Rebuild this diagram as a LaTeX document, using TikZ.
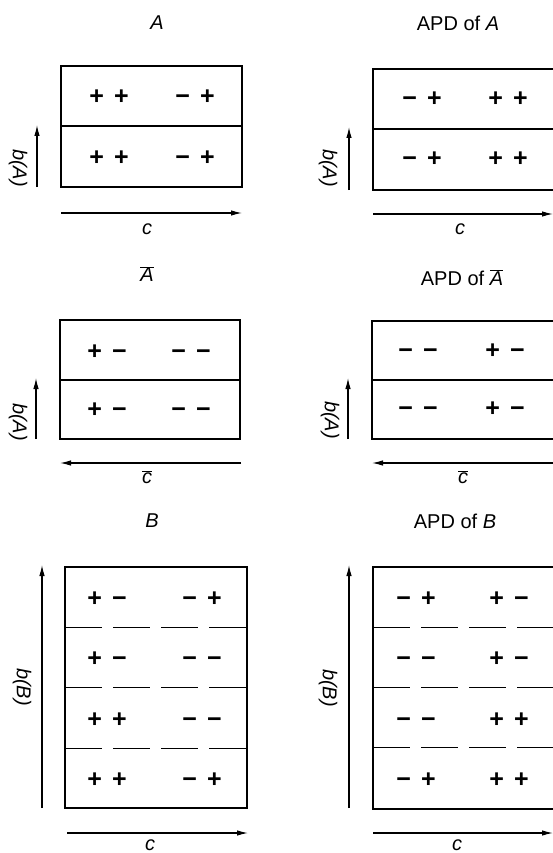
\documentclass[tikz,border=0pt]{standalone}
\usepackage{fontspec}
\setmainfont{Liberation Sans}
\usetikzlibrary{arrows.meta}
\newcommand\sgap{\hspace{10pt}}
\newcommand\ovA{$\overline{\mbox{\itshape A}}$}
\newcommand\ovc{$\overline{\mbox{\itshape c}}$}
\begin{document}
\begin{tikzpicture}[x=1pt,y=-1pt,
  box/.style={line width=1.8pt},
  divline/.style={line width=1.3pt},
  dashdiv/.style={line width=1.0pt, dash pattern=on 36.5pt off 11.5pt},
  axis/.style={line width=1.2pt, -{Latex[length=11pt,width=5.5pt]}},
  sg/.style={font=\fontsize{25}{28}\selectfont\bfseries, inner sep=0pt, text height=17.5pt, text depth=0pt},
  lab/.style={font=\fontsize{20}{24}\selectfont, inner sep=0pt}]
\clip (0,0) rectangle (553,853);

% ================= Panel A (left) =================
\node[lab] (tA) at (157,23) {\itshape A};
\draw[box] (61,66) rectangle (242,187);
\draw[divline] (61,126) -- (242,126);
\node[sg] (a11) at (109,96) {+\sgap+};
\node[sg] (a12) at (195,96) {−\sgap+};
\node[sg] (a21) at (109,157) {+\sgap+};
\node[sg] (a22) at (195,157) {−\sgap+};
\coordinate (aLb0) at (37,187); \coordinate (aLb1) at (37,125);
\draw[axis] (aLb0) -- (aLb1);
\node[lab, rotate=-90] (aLbl) at (18,168) {\itshape b(A)};
\coordinate (aLc0) at (61,213); \coordinate (aLc1) at (242,213);
\draw[axis] (aLc0) -- (aLc1);
\node[lab] (aLc) at (147,229) {\itshape c};

% ================= Panel A (right) =================
\node[lab] (tAr) at (458,23) {APD of \itshape A};
\draw[box] (373,69) rectangle (556,190);
\draw[divline] (373,129) -- (556,129);
\node[sg] (b11) at (422,98) {−\sgap+};
\node[sg] (b12) at (508,98) {+\sgap+};
\node[sg] (b21) at (422,158) {−\sgap+};
\node[sg] (b22) at (508,158) {+\sgap+};
\coordinate (aRb0) at (349,190); \coordinate (aRb1) at (349,127);
\draw[axis] (aRb0) -- (aRb1);
\node[lab, rotate=-90] (aRbl) at (328,168) {\itshape b(A)};
\coordinate (aRc0) at (373,214); \coordinate (aRc1) at (553,214);
\draw[axis] (aRc0) -- (aRc1);
\node[lab] (aRc) at (460,229) {\itshape c};

% ================= Panel A-bar (left) =================
\node[lab] (tAb) at (147,274) {\ovA};
\draw[box] (60,320) rectangle (240,439);
\draw[divline] (60,380) -- (240,380);
\node[sg] (c11) at (107,351) {+\sgap−};
\node[sg] (c12) at (191,351) {−\sgap−};
\node[sg] (c21) at (107,409) {+\sgap−};
\node[sg] (c22) at (191,409) {−\sgap−};
\coordinate (bLb0) at (36,439); \coordinate (bLb1) at (36,378);
\draw[axis] (bLb0) -- (bLb1);
\node[lab, rotate=-90] (bLbl) at (18,422) {\itshape b(A)};
\coordinate (bLc0) at (241,463); \coordinate (bLc1) at (60,463);
\draw[axis] (bLc0) -- (bLc1);
\node[lab] (bLc) at (147,477) {\ovc};

% ================= Panel A-bar (right) =================
\node[lab] (tAbr) at (462,278) {APD of \ovA};
\draw[box] (372,321) rectangle (556,439);
\draw[divline] (372,380) -- (556,380);
\node[sg] (d11) at (418,350) {−\sgap−};
\node[sg] (d12) at (505,350) {+\sgap−};
\node[sg] (d21) at (418,408) {−\sgap−};
\node[sg] (d22) at (505,408) {+\sgap−};
\coordinate (bRb0) at (348,439); \coordinate (bRb1) at (348,378);
\draw[axis] (bRb0) -- (bRb1);
\node[lab, rotate=-90] (bRbl) at (330,420) {\itshape b(A)};
\coordinate (bRc0) at (556,463); \coordinate (bRc1) at (372,463);
\draw[axis] (bRc0) -- (bRc1);
\node[lab] (bRc) at (463,477) {\ovc};

% ================= Panel B (left) =================
\node[lab] (tB) at (152,521) {\itshape B};
\draw[box] (65,567) rectangle (247,808);
\draw[dashdiv] (65,627) -- (247,627);
\draw[dashdiv] (65,687) -- (247,687);
\draw[dashdiv] (65,748) -- (247,748);
\node[sg] (e11) at (107,598) {+\sgap−};
\node[sg] (e12) at (202,598) {−\sgap+};
\node[sg] (e21) at (107,658) {+\sgap−};
\node[sg] (e22) at (202,658) {−\sgap−};
\node[sg] (e31) at (107,719) {+\sgap+};
\node[sg] (e32) at (202,719) {−\sgap−};
\node[sg] (e41) at (107,779) {+\sgap+};
\node[sg] (e42) at (202,779) {−\sgap+};
\coordinate (cLb0) at (42,808); \coordinate (cLb1) at (42,565);
\draw[axis] (cLb0) -- (cLb1);
\node[lab, rotate=-90] (cLbl) at (22,687) {\itshape b(B)};
\coordinate (cLc0) at (67,833); \coordinate (cLc1) at (248,833);
\draw[axis] (cLc0) -- (cLc1);
\node[lab] (cLc) at (150,845) {\itshape c};

% ================= Panel B (right) =================
\node[lab] (tBr) at (455,521) {APD of \itshape B};
\draw[box] (373,567) rectangle (556,809);
\draw[dashdiv] (373,627) -- (556,627);
\draw[dashdiv] (373,687) -- (556,687);
\draw[dashdiv] (373,747) -- (556,747);
\node[sg] (f11) at (416,598) {−\sgap+};
\node[sg] (f12) at (509,598) {+\sgap−};
\node[sg] (f21) at (416,658) {−\sgap−};
\node[sg] (f22) at (509,658) {+\sgap−};
\node[sg] (f31) at (416,719) {−\sgap−};
\node[sg] (f32) at (509,719) {+\sgap+};
\node[sg] (f41) at (416,779) {−\sgap+};
\node[sg] (f42) at (509,779) {+\sgap+};
\coordinate (cRb0) at (349,808); \coordinate (cRb1) at (349,565);
\draw[axis] (cRb0) -- (cRb1);
\node[lab, rotate=-90] (cRbl) at (328,688) {\itshape b(B)};
\coordinate (cRc0) at (373,833); \coordinate (cRc1) at (553,833);
\draw[axis] (cRc0) -- (cRc1);
\node[lab] (cRc) at (457,845) {\itshape c};
\end{tikzpicture}
\end{document}
